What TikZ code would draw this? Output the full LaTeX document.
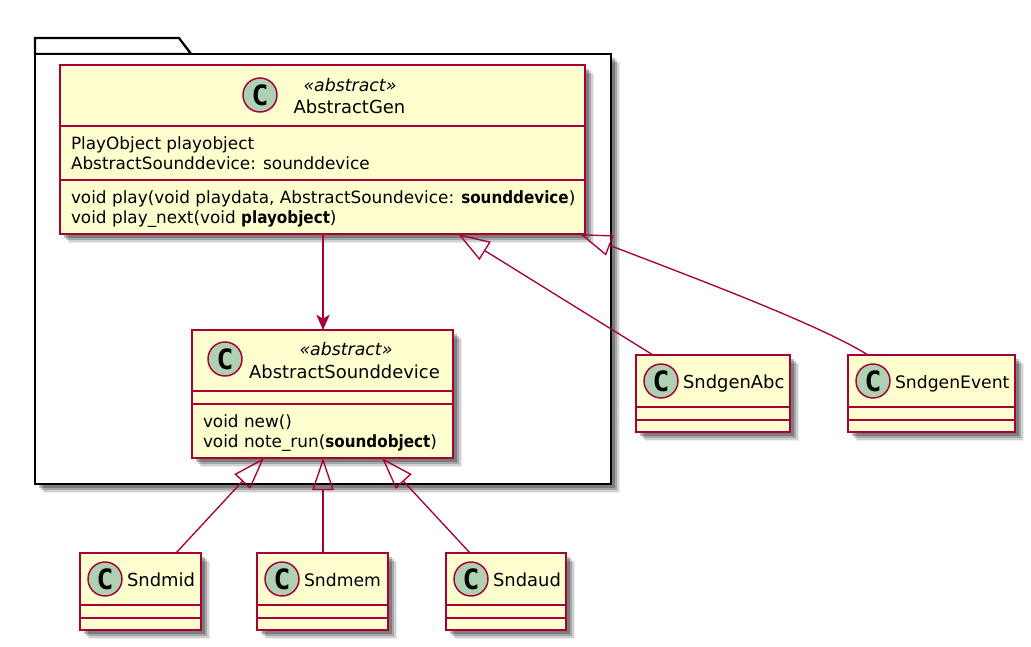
\documentclass[tikz,border=0pt]{standalone}
\usepackage{fontspec}
\setmainfont[BoldFeatures={FakeStretch=0.9}]{DejaVu Sans}
\setmonofont{DejaVu Sans Mono}
\usetikzlibrary{shadows,arrows.meta,calc}
\pgfdeclarelayer{background}
\pgfsetlayers{background,main}
\definecolor{umlborder}{HTML}{A80036}
\definecolor{umlfill}{HTML}{FEFECE}
\definecolor{umlbadge}{HTML}{ADD1B2}
\tikzstyle{softshadow}=[drop shadow={shadow xshift=6.8pt,shadow yshift=-6.8pt,opacity=.07,fill=black},
  drop shadow={shadow xshift=5.7pt,shadow yshift=-5.7pt,opacity=.12,fill=black},
  drop shadow={shadow xshift=4.5pt,shadow yshift=-4.5pt,opacity=.2,fill=black},
  drop shadow={shadow xshift=3.2pt,shadow yshift=-3.2pt,opacity=.25,fill=black}]
\tikzstyle{element}=[draw=umlborder, fill=umlfill, line width=1.5pt, inner sep=0pt, outer sep=0pt,
  anchor=north west, softshadow]
\tikzstyle{badge}=[circle, draw=umlborder, fill=umlbadge, line width=1.1pt, minimum size=25.5pt,
  inner sep=0pt, font=\fontsize{21}{21}\bfseries\ttfamily]
\tikzstyle{texto}=[anchor=base west, inner sep=0pt, outer sep=0pt]
\tikzstyle{textoc}=[anchor=base, inner sep=0pt, outer sep=0pt]
\tikzstyle{divider}=[draw=umlborder, line width=1.1pt]
\tikzstyle{package}=[draw=black, fill=white, line width=1.7pt, softshadow]
\tikzstyle{line}=[draw=umlborder, line width=1pt]
\tikzstyle{extends}=[line, {Triangle[open,length=24pt,width=16pt]}-]
\tikzstyle{uses}=[line, -{Stealth[length=11.5pt,width=10pt,inset=3pt]}]
\newcommand{\textsize}{\fontsize{12.65}{15}\selectfont}
\newcommand{\titlesize}{\fontsize{13.45}{15}\selectfont}
\newcommand{\narrowsize}{\fontsize{12.9}{15}\selectfont}
\newcommand{\stereo}{\fontsize{13}{15}\selectfont\itshape}
% small class: name, left, top, width, label
\newcommand{\classbox}[5]{%
  \node (p#1) [element, minimum width=#4*0.75pt, minimum height=57.75pt] at (#2,#3) {};
  \draw [divider] ($(p#1.north west)+(0,52)$) -- ($(p#1.north east)+(0,52)$);
  \draw [divider] ($(p#1.north west)+(0,65)$) -- ($(p#1.north east)+(0,65)$);
  \node (c#1) [badge] at ($(p#1.north west)+(25,26)$) {C};
  \node (l#1) [texto] at ($(p#1.north west)+(47,33)$) {\titlesize #5};}
\begin{document}
\begin{tikzpicture}[x=0.75pt,y=-0.75pt]
  \useasboundingbox (0,0) rectangle (1031,646);

  % Package behind the two abstract classes
  \begin{pgfonlayer}{background}
    \path [package] (35,54) -- (35,38) -- (179,38) -- (191,54) -- cycle;
    \node (ppack) [package, anchor=north west, minimum width=432pt, minimum height=322.5pt,
      inner sep=0pt, outer sep=0pt] at (35,54) {};
  \end{pgfonlayer}

  % AbstractGen
  \node (pgen) [element, minimum width=393.75pt, minimum height=126.75pt] at (60,65) {};
  \draw [divider] ($(pgen.north west)+(0,61)$) -- ($(pgen.north east)+(0,61)$);
  \draw [divider] ($(pgen.north west)+(0,115)$) -- ($(pgen.north east)+(0,115)$);
  \node (cgen) [badge] at (260,95) {C};
  \node (sgen) [textoc] at (350,91) {\stereo «abstract»};
  \node (lgen) [textoc] at (349.5,113) {\titlesize AbstractGen};
  \node (f1) [texto] at (71,149) {\textsize PlayObject playobject};
  \node (f2) [texto] at (71,169) {\textsize AbstractSounddevice: sounddevice};
  \node (m1) [texto] at (71,203) {\textsize void play(void playdata, AbstractSoundevice: \textbf{sounddevice})};
  \node (m2) [texto] at (71,223) {\textsize void play\_next(void \textbf{playobject})};

  % AbstractSounddevice
  \node (pdev) [element, minimum width=195.75pt, minimum height=96pt] at (192,330) {};
  \draw [divider] ($(pdev.north west)+(0,61)$) -- ($(pdev.north east)+(0,61)$);
  \draw [divider] ($(pdev.north west)+(0,74)$) -- ($(pdev.north east)+(0,74)$);
  \node (cdev) [badge] at (225,359) {C};
  \node (sdev) [textoc] at (346,355) {\stereo «abstract»};
  \node (ldev) [textoc] at (344.5,378) {\titlesize AbstractSounddevice};
  \node (m3) [texto] at (203,427) {\textsize void new()};
  \node (m4) [texto] at (203,447) {\textsize void note\_run(\textbf{soundobject})};

  % Subclasses
  \classbox{abc}{636}{355}{154}{SndgenAbc}
  \classbox{event}{848}{355}{167}{\narrowsize SndgenEvent}
  \classbox{mid}{80}{553}{121}{Sndmid}
  \classbox{mem}{257}{553}{131}{\narrowsize Sndmem}
  \classbox{aud}{446}{553}{120}{Sndaud}

  % Draw arrows between elements
  \path [uses] ($(pgen.south west)+(263,0)$) -- ($(pdev.north west)+(131,0)$);
  \path [extends] ($(pgen.south west)+(398,0)$) -- ($(pabc.north west)+(17,0)$);
  \path [extends] ($(pgen.south east)+(-5,0)$) .. controls (700,280) and (820,325) .. ($(pevent.north west)+(20,0)$);
  \path [extends] ($(pdev.south west)+(72,0)$) -- ($(pmid.north west)+(96,0)$);
  \path [extends] ($(pdev.south west)+(131,0)$) -- ($(pmem.north west)+(66,0)$);
  \path [extends] ($(pdev.south east)+(-71,0)$) -- ($(paud.north west)+(24,0)$);
\end{tikzpicture}
\end{document}
